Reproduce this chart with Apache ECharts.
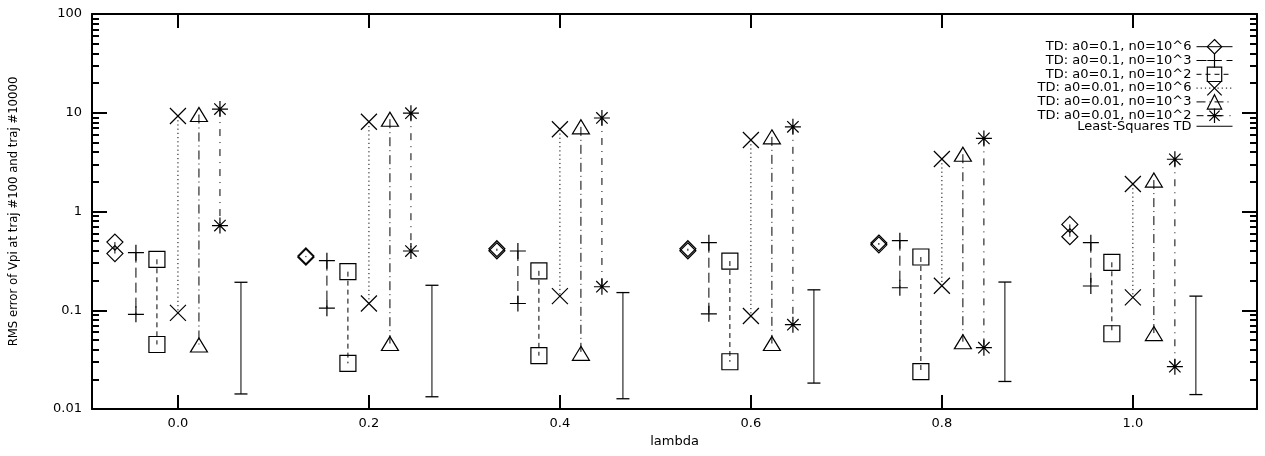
<!DOCTYPE html>
<html><head><meta charset="utf-8">
<script src="https://cdn.jsdelivr.net/npm/echarts@6/dist/echarts.min.js"></script>
<style>html,body{margin:0;padding:0;background:#fff}#c{width:1265px;height:456px}</style>
</head><body><div id="c"></div>
<script>
// ---------- data ----------
const lambdas = [0.0, 0.2, 0.4, 0.6, 0.8, 1.0];
const xTickValues = [0.0, 0.2, 0.4, 0.6, 0.8, 1.0];
const seriesNames = [
  'TD: a0=0.1, n0=10^6',
  'TD: a0=0.1, n0=10^3',
  'TD: a0=0.1, n0=10^2',
  'TD: a0=0.01, n0=10^6',
  'TD: a0=0.01, n0=10^3',
  'TD: a0=0.01, n0=10^2',
  'Least-Squares TD'
];
// horizontal offset of each series from its lambda value
const lambdaOffsets = [-0.066, -0.044, -0.022, 0.0, 0.022, 0.044, 0.066];
// upper / lower values per lambda
const tdA01N6High = [0.49, 0.355, 0.42, 0.42, 0.48, 0.74];
const tdA01N6Low  = [0.375, 0.345, 0.40, 0.40, 0.46, 0.555];
const tdA01N3High = [0.383, 0.318, 0.398, 0.483, 0.506, 0.483];
const tdA01N3Low  = [0.091, 0.105, 0.117, 0.092, 0.169, 0.176];
const tdA01N2High = [0.328, 0.246, 0.251, 0.315, 0.346, 0.306];
const tdA01N2Low  = [0.045, 0.029, 0.0347, 0.0301, 0.0239, 0.0578];
const tdA001N6High = [9.27, 8.1, 6.8, 5.3, 3.4, 1.9];
const tdA001N6Low  = [0.094, 0.117, 0.139, 0.0875, 0.177, 0.135];
const tdA001N3High = [9.6, 8.6, 7.2, 5.7, 3.8, 2.08];
const tdA001N3Low  = [0.0445, 0.046, 0.0366, 0.046, 0.048, 0.058];
const tdA001N2High = [10.9, 9.9, 8.85, 7.2, 5.5, 3.38];
const tdA001N2Low  = [0.72, 0.398, 0.173, 0.0714, 0.0418, 0.0268];
const lstdHigh = [0.192, 0.179, 0.151, 0.161, 0.193, 0.139];
const lstdLow  = [0.0142, 0.0133, 0.0127, 0.0183, 0.019, 0.014];

const highs = [tdA01N6High, tdA01N3High, tdA01N2High, tdA001N6High, tdA001N3High, tdA001N2High, lstdHigh];
const lows  = [tdA01N6Low, tdA01N3Low, tdA01N2Low, tdA001N6Low, tdA001N3Low, tdA001N2Low, lstdLow];

// ---------- styles ----------
const FONT = 'DejaVu Sans';
const symbols = [
  'diamond',
  'path://M0,8L16,8M8,0L8,16',
  'rect',
  'path://M0,0L16,16M16,0L0,16',
  'triangle',
  'path://M0,8L16,8M8,0L8,16M2.3,2.3L13.7,13.7M13.7,2.3L2.3,13.7',
  'rect'
];
const symbolSizes = [16, 16, 16, 16, [17, 14], 16, [13, 1.3]];
const dashTypes = ['solid', [10, 5], [5, 4], [1.2, 3], [9, 4, 1, 4], [7, 6, 1, 6], 'solid'];

function buildData(k) {
  const out = [];
  lambdas.forEach((l, i) => {
    const x = +(l + lambdaOffsets[k]).toFixed(4);
    out.push([x, highs[k][i]]);
    out.push([x, lows[k][i]]);
    out.push([x, '-']);
  });
  return out;
}

const series = seriesNames.map((name, k) => ({
  name: name,
  type: 'line',
  data: buildData(k),
  symbol: symbols[k],
  symbolSize: symbolSizes[k],
  showSymbol: true,
  connectNulls: false,
  color: '#000',
  lineStyle: { color: '#000', width: 1, type: dashTypes[k] },
  itemStyle: k === 6 ? { color: '#000', borderWidth: 0 } : { color: 'none', borderColor: '#000', borderWidth: 1.2 },
  emphasis: { disabled: true },
  z: 3
}));

const yMinor = { show: true, splitNumber: 9, length: 7, lineStyle: { color: '#000', width: 2 } };
const axisLine = { show: true, onZero: false, lineStyle: { color: '#000', width: 2 } };

const option = {
  animation: false,
  backgroundColor: '#fff',
  textStyle: { fontFamily: FONT },
  grid: { left: 90, right: 8, top: 14, bottom: 47, containLabel: false },
  legend: {
    orient: 'vertical',
    align: 'right',
    right: 27,
    top: 32,
    itemWidth: 36,
    itemHeight: 18,
    itemGap: -5.6,
    textStyle: { fontFamily: FONT, fontSize: 13, color: '#000' },
    itemStyle: { borderWidth: 1.2 },
    lineStyle: { width: 1 },
    data: seriesNames.map((n, k) => k === 6 ? { name: n, icon: 'path://M0,0L40,0L40,1L0,1Z' } : { name: n }),
    selectedMode: false
  },
  xAxis: [
    {
      type: 'value', position: 'bottom', min: -0.09, max: 1.13,
      name: 'lambda', nameLocation: 'middle', nameGap: 24,
      nameTextStyle: { fontFamily: FONT, fontSize: 13, color: '#000' },
      axisLine: axisLine,
      axisTick: { show: true, inside: true, length: 14, lineStyle: { color: '#000', width: 2 }, customValues: xTickValues },
      axisLabel: { show: true, customValues: xTickValues, formatter: v => (+v).toFixed(1), fontFamily: FONT, fontSize: 13, color: '#000', margin: 8 },
      splitLine: { show: false }
    },
    {
      type: 'value', position: 'top', min: -0.09, max: 1.13,
      axisLine: axisLine,
      axisTick: { show: true, inside: true, length: 14, lineStyle: { color: '#000', width: 2 }, customValues: xTickValues },
      axisLabel: { show: false },
      splitLine: { show: false }
    }
  ],
  yAxis: [
    {
      type: 'log', logBase: 10, min: 0.01, max: 100, position: 'left',
      name: 'RMS error of Vpi at traj #100 and traj #10000', nameLocation: 'middle', nameGap: 72, nameRotate: 90,
      nameTextStyle: { fontFamily: FONT, fontSize: 11.7, color: '#000' },
      axisLine: axisLine,
      axisTick: { show: true, inside: true, length: 15, lineStyle: { color: '#000', width: 2 } },
      minorTick: yMinor,
      axisLabel: { show: true, fontFamily: FONT, fontSize: 13, color: '#000', margin: 10 },
      splitLine: { show: false }, minorSplitLine: { show: false }
    },
    {
      type: 'log', logBase: 10, min: 0.01, max: 100, position: 'right',
      axisLine: axisLine,
      axisTick: { show: true, inside: true, length: 15, lineStyle: { color: '#000', width: 2 } },
      minorTick: yMinor,
      axisLabel: { show: false },
      splitLine: { show: false }, minorSplitLine: { show: false }
    }
  ],
  series: series
};

const chart = echarts.init(document.getElementById('c'), null, { renderer: 'canvas' });
chart.setOption(option);
</script>
</body></html>
